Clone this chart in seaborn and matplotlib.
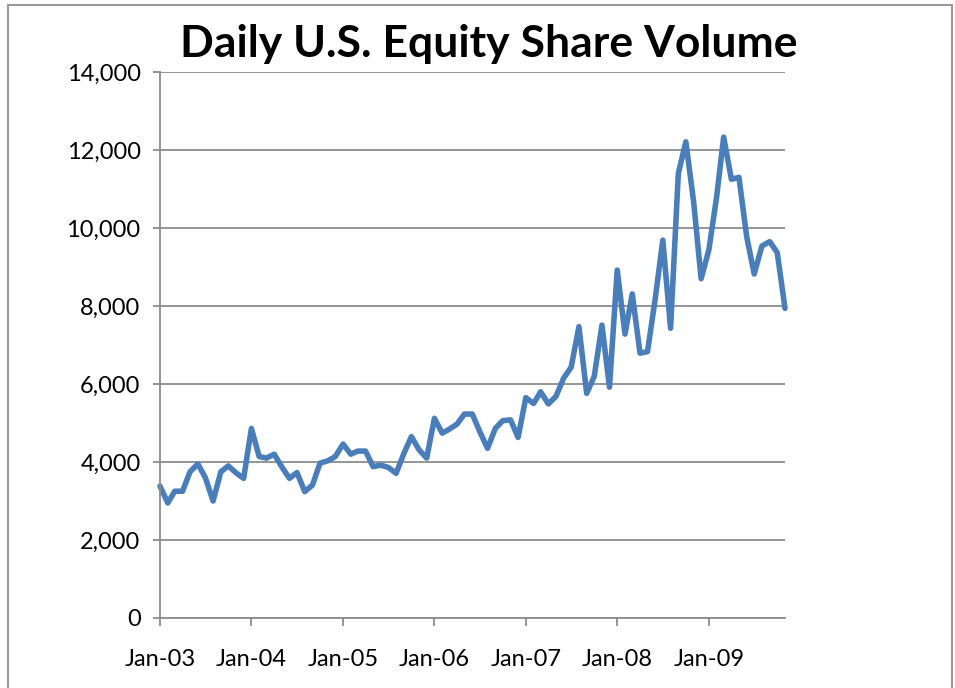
import pandas as pd
import matplotlib
matplotlib.use('Agg')
from matplotlib import pyplot as plt
import matplotlib.dates as mdates
from matplotlib.ticker import FuncFormatter
from matplotlib.patches import Rectangle
import seaborn as sns

# 月次データ（1日あたりの出来高、百万株）
vol_2003 = [3380, 2950, 3250, 3250, 3750, 3950, 3600, 3000, 3750, 3900, 3720, 3580]
vol_2004 = [4860, 4140, 4100, 4200, 3880, 3580, 3730, 3240, 3410, 3970, 4030, 4140]
vol_2005 = [4460, 4200, 4280, 4280, 3880, 3920, 3860, 3710, 4220, 4650, 4310, 4100]
vol_2006 = [5120, 4740, 4840, 4970, 5230, 5230, 4780, 4350, 4860, 5060, 5080, 4630]
vol_2007 = [5650, 5500, 5800, 5490, 5680, 6150, 6430, 7470, 5760, 6190, 7510, 5920]
vol_2008 = [8920, 7280, 8310, 6790, 6830, 8200, 9690, 7430, 11400, 12210, 10680, 8700]
vol_2009 = [9440, 10800, 12330, 11250, 11300, 9780, 8820, 9540, 9650, 9370, 7940]

start_month = '2003-01-01'
y_ticks = [0, 2000, 4000, 6000, 8000, 10000, 12000, 14000]
title_text = 'Daily U.S. Equity Share Volume'

volume = vol_2003 + vol_2004 + vol_2005 + vol_2006 + vol_2007 + vol_2008 + vol_2009
months = pd.date_range(start_month, periods=len(volume), freq='MS')
df = pd.DataFrame({'month': months, 'volume': volume})

sns.set_style('white')
plt.rcParams['font.family'] = ['Lato', 'DejaVu Sans']
plt.rcParams['text.color'] = 'black'

fig = plt.figure(figsize=(9.55, 6.88), dpi=100)
ax = fig.add_axes([160 / 955, 70 / 688, 625 / 955, 546 / 688])

# 折れ線
sns.lineplot(data=df, x='month', y='volume', ax=ax,
             color='#4A7EBB', linewidth=4)
for line in ax.lines:
    line.set_clip_on(False)
    line.set_solid_joinstyle('round')

grid_color = '#8c8c8c'
ax.set_xlim(months[0], months[-1])
ax.set_ylim(0, 14000)
ax.set_yticks(y_ticks)
ax.yaxis.set_major_formatter(FuncFormatter(lambda v, p: f'{int(v):,}'))
ax.xaxis.set_major_locator(mdates.YearLocator())
ax.xaxis.set_major_formatter(mdates.DateFormatter('%b-%y'))

ax.grid(axis='y', color=grid_color, linewidth=1.3)
ax.set_axisbelow(True)
for side in ['top', 'right']:
    ax.spines[side].set_visible(False)
for side in ['left', 'bottom']:
    ax.spines[side].set_color(grid_color)
    ax.spines[side].set_linewidth(1.3)

ax.tick_params(axis='y', left=True, length=5, width=1.3, color=grid_color,
               pad=9, labelsize=17, labelcolor='black')
ax.tick_params(axis='x', bottom=True, length=6, width=1.3, color=grid_color,
               pad=16, labelsize=17, labelcolor='black')
ax.set_xlabel('')
ax.set_ylabel('')

# タイトル
fig.text(489 / 955, 1 - 44 / 688, title_text, ha='center', va='center',
         fontsize=32, fontweight='bold', color='black')

# グラフエリアの枠
fig.patches.append(Rectangle((8 / 955, -0.05), 944 / 955, 1.05 - 5 / 688,
                             transform=fig.transFigure, fill=False,
                             edgecolor='#999999', linewidth=1.5))

fig.savefig('out.png', dpi=100)
